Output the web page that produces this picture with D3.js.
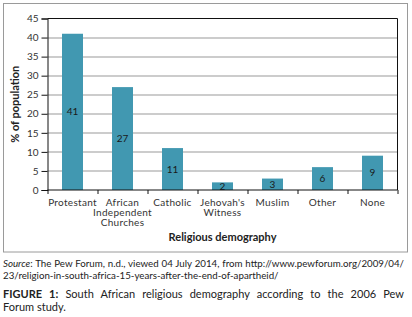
<!DOCTYPE html>
<html>
<head>
<meta charset="utf-8">
<script src="https://cdn.jsdelivr.net/npm/d3@7"></script>
<style>
  body { margin: 0; background: #fff; }
  svg { display: block; font-family: Lato, "Open Sans", sans-serif; }
  .tick text { fill: #333; }
</style>
</head>
<body>
<svg width="412" height="317"></svg>
<script>
const svg = d3.select('svg');

// data
const categories = ['Protestant', 'African Independent Churches', 'Catholic', "Jehovah's Witness", 'Muslim', 'Other', 'None'];
const categoryLines = [['Protestant'], ['African', 'Independent', 'Churches'], ['Catholic'], ["Jehovah's", 'Witness'], ['Muslim'], ['Other'], ['None']];
const values = [41, 27, 11, 2, 3, 6, 9];
const yTicks = [0, 5, 10, 15, 20, 25, 30, 35, 40, 45];

const margin = { top: 18.5, left: 47.5, right: 14.5, bottom: 127 };
const width = 412, height = 317;
const innerWidth = width - margin.left - margin.right;
const innerHeight = height - margin.top - margin.bottom;

// outer frame
svg.append('rect')
  .attr('x', 3.5).attr('y', 3.5)
  .attr('width', 404).attr('height', 248.5)
  .attr('fill', 'none')
  .attr('stroke', '#9a9a9a');

const g = svg.append('g')
  .attr('transform', `translate(${margin.left},${margin.top})`);

const xScale = d3.scaleBand()
  .domain(categories)
  .range([0, innerWidth])
  .paddingInner(0.58)
  .paddingOuter(0.29);

const yScale = d3.scaleLinear()
  .domain([0, 45])
  .range([innerHeight, 0]);

// gridlines
g.selectAll('.grid')
  .data(yTicks.slice(1, -1)).enter()
  .append('line')
    .attr('x1', 0).attr('x2', innerWidth)
    .attr('y1', d => Math.round(yScale(d)) + 0.5)
    .attr('y2', d => Math.round(yScale(d)) + 0.5)
    .attr('stroke', '#999');

// plot border (top, right)
g.append('path')
  .attr('d', `M0,0H${innerWidth}V${innerHeight}`)
  .attr('fill', 'none')
  .attr('stroke', '#111');

// bars
g.selectAll('.bar')
  .data(values).enter()
  .append('rect')
    .attr('x', (d, i) => xScale(categories[i]))
    .attr('y', d => yScale(d))
    .attr('width', xScale.bandwidth())
    .attr('height', d => innerHeight - yScale(d))
    .attr('fill', '#4198b1');

// value labels
g.selectAll('.val')
  .data(values).enter()
  .append('text')
    .attr('x', (d, i) => xScale(categories[i]) + xScale.bandwidth() / 2)
    .attr('y', d => (yScale(d) + innerHeight) / 2)
    .attr('dy', '0.35em')
    .attr('text-anchor', 'middle')
    .attr('font-size', 10)
    .attr('fill', '#1a1a1a')
    .text(d => d);

// y axis
const yAxisG = g.append('g')
  .call(d3.axisLeft(yScale).tickValues(yTicks).tickSize(6).tickPadding(3));
yAxisG.selectAll('text').attr('font-size', 10).attr('font-family', 'Lato, sans-serif');
yAxisG.select('.domain').attr('stroke', '#111');
yAxisG.selectAll('.tick line').attr('stroke', '#111');

// x axis: baseline with ticks at category boundaries
const xAxisG = g.append('g').attr('transform', `translate(0,${innerHeight})`);
xAxisG.append('line')
  .attr('x1', 0).attr('x2', innerWidth)
  .attr('stroke', '#111');
const step = xScale.step();
const x0 = xScale(categories[0]) - step * 0.29;
xAxisG.selectAll('.xt')
  .data(d3.range(categories.length + 1)).enter()
  .append('line')
    .attr('x1', i => Math.round(x0 + i * step) + 0.5)
    .attr('x2', i => Math.round(x0 + i * step) + 0.5)
    .attr('y1', 0).attr('y2', 4)
    .attr('stroke', '#111');

xAxisG.selectAll('.xl')
  .data(categoryLines).enter()
  .append('text')
    .attr('text-anchor', 'middle')
    .attr('font-size', 10)
    .attr('letter-spacing', 0.3)
    .attr('fill', '#333')
    .attr('transform', (d, i) => `translate(${xScale(categories[i]) + xScale.bandwidth() / 2},15.5)`)
    .selectAll('tspan')
    .data(d => d).enter()
    .append('tspan')
      .attr('x', 0)
      .attr('y', (d, i) => i * 10)
      .text(d => d);

// axis titles
svg.append('text')
  .attr('transform', `translate(19,${margin.top + innerHeight / 2}) rotate(-90)`)
  .attr('text-anchor', 'middle')
  .attr('font-size', 11)
  .attr('font-weight', 'bold')
  .attr('fill', '#222')
  .text('% of population');

svg.append('text')
  .attr('x', margin.left + innerWidth / 2)
  .attr('y', 241)
  .attr('text-anchor', 'middle')
  .attr('font-size', 11)
  .attr('font-weight', 'bold')
  .attr('fill', '#222')
  .text('Religious demography');

// justify helper
const justify = (sel, target) => {
  const w = sel.node().getComputedTextLength();
  const gaps = (sel.text().match(/ /g) || []).length;
  if (gaps > 0) sel.attr('word-spacing', (target - w) / gaps);
};

// source note
const src1 = svg.append('text')
  .attr('x', 3).attr('y', 267)
  .attr('font-size', 9.5)
  .attr('fill', '#222');
src1.append('tspan').attr('font-style', 'italic').text('Source');
src1.append('tspan').text(': The Pew Forum, n.d., viewed 04 July 2014, from http://www.pewforum.org/2009/04/');
const srcFont = Math.min(10.5, 9.5 * 398 / src1.node().getComputedTextLength());
src1.attr('font-size', srcFont);
justify(src1, 401);

svg.append('text')
  .attr('x', 3).attr('y', 279)
  .attr('font-size', srcFont)
  .attr('fill', '#222')
  .text('23/religion-in-south-africa-15-years-after-the-end-of-apartheid/');

// caption
const cap1 = svg.append('text')
  .attr('x', 3).attr('y', 298)
  .attr('font-size', 11)
  .attr('fill', '#222');
cap1.append('tspan').attr('font-weight', 'bold').text('FIGURE 1:');
cap1.append('tspan').text(' South African religious demography according to the 2006 Pew');
justify(cap1, 401);

svg.append('text')
  .attr('x', 3).attr('y', 311)
  .attr('font-size', 11)
  .attr('fill', '#222')
  .text('Forum study.');
</script>
</body>
</html>
